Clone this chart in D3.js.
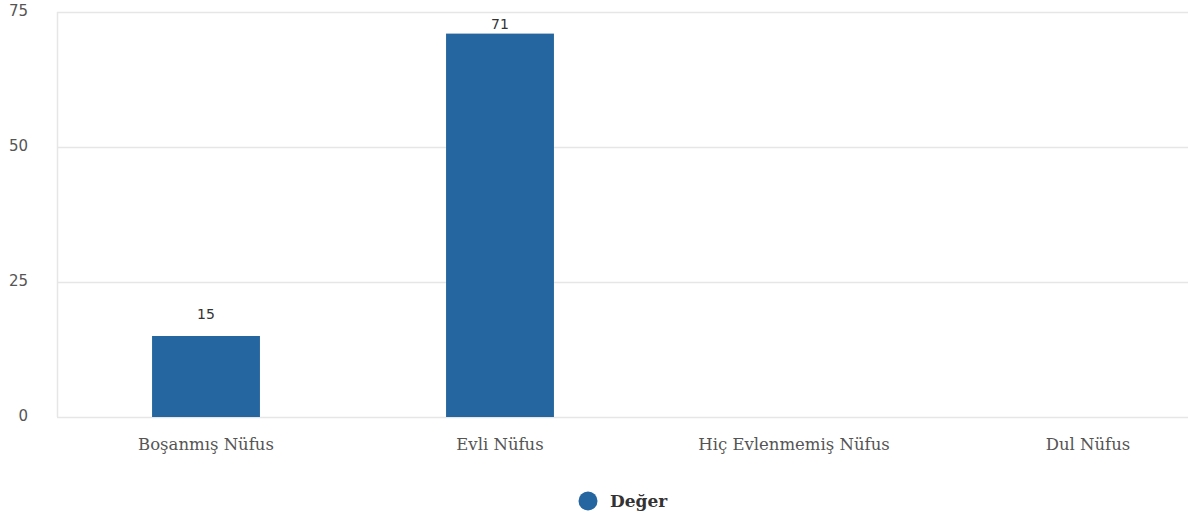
<!DOCTYPE html>
<html>
<head>
<meta charset="utf-8">
<script src="https://cdn.jsdelivr.net/npm/d3@7"></script>
<style>
  body { margin: 0; background: #fff; }
  svg { display: block; }
</style>
</head>
<body>
<div id="chart"></div>
<script>
var categories = ["Boşanmış Nüfus", "Evli Nüfus", "Hiç Evlenmemiş Nüfus", "Dul Nüfus"]
var values = [15, 71, 0, 0]
var yTicks = [0, 25, 50, 75]
var seriesName = "Değer"

var width = 1188, height = 521
var margin = { top: 12, right: -47, bottom: 104, left: 57 }

var svg = d3.select("#chart")
  .append("svg")
  .attr("width", width)
  .attr("height", height)

var xScale = d3.scaleBand()
  .domain(categories)
  .range([59, width - margin.right])
  .paddingInner(0.633)
  .paddingOuter(0.3165)

var yScale = d3.scaleLinear()
  .domain([0, 75])
  .range([height - margin.bottom, margin.top])

// horizontal grid
svg.append("g")
  .selectAll("line")
  .data(yTicks)
  .enter()
  .append("line")
  .attr("x1", margin.left)
  .attr("x2", width)
  .attr("y1", d => yScale(d) + 0.5)
  .attr("y2", d => yScale(d) + 0.5)
  .attr("stroke", "#e6e6e6")
  .attr("stroke-width", 1.5)

// left axis line
svg.append("line")
  .attr("x1", margin.left + 0.5)
  .attr("x2", margin.left + 0.5)
  .attr("y1", margin.top)
  .attr("y2", yScale(0))
  .attr("stroke", "#e6e6e6")
  .attr("stroke-width", 1.5)

// y tick labels
var yAxis = d3.axisLeft(yScale).tickValues(yTicks).tickSize(0).tickPadding(0)
var gy = svg.append("g")
  .attr("transform", "translate(28,0)")
  .call(yAxis)
gy.select(".domain").remove()
gy.selectAll("text")
  .attr("font-family", "DejaVu Sans, Verdana, sans-serif")
  .attr("font-size", "15px")
  .attr("fill", "#555")
  .attr("dy", "0.25em")

// bars
svg.selectAll(".bar")
  .data(values)
  .enter()
  .append("rect")
  .attr("class", "bar")
  .attr("x", (d, i) => xScale(categories[i]))
  .attr("y", d => yScale(d))
  .attr("width", xScale.bandwidth())
  .attr("height", d => yScale(0) - yScale(d))
  .attr("fill", "#2566a1")

// value labels (kept inside the top of the plot)
svg.selectAll(".val")
  .data(values)
  .enter()
  .filter(d => d > 0)
  .append("text")
  .attr("class", "val")
  .attr("x", (d, i) => xScale(categories[values.indexOf(d)]) + xScale.bandwidth() / 2)
  .attr("y", d => Math.max(yScale(d) - 17, 29))
  .attr("text-anchor", "middle")
  .attr("font-family", "DejaVu Sans, Verdana, sans-serif")
  .attr("font-size", "14px")
  .attr("fill", "#333")
  .text(d => d)

// x labels
var xAxis = d3.axisBottom(xScale).tickSize(0).tickPadding(0)
var gx = svg.append("g")
  .attr("transform", `translate(0,${yScale(0) + 21})`)
  .call(xAxis)
gx.select(".domain").remove()
gx.selectAll("text")
  .attr("font-family", "DejaVu Serif, Georgia, serif")
  .attr("font-size", "16.5px")
  .attr("fill", "#555")

// legend
var legend = svg.append("g")
  .attr("transform", "translate(588,501)")
legend.append("circle")
  .attr("r", 9.5)
  .attr("fill", "#2566a1")
legend.append("text")
  .attr("x", 22)
  .attr("dy", "0.35em")
  .attr("font-family", "DejaVu Serif, Georgia, serif")
  .attr("font-weight", "bold")
  .attr("font-size", "17px")
  .attr("fill", "#333")
  .text(seriesName)
</script>
</body>
</html>
